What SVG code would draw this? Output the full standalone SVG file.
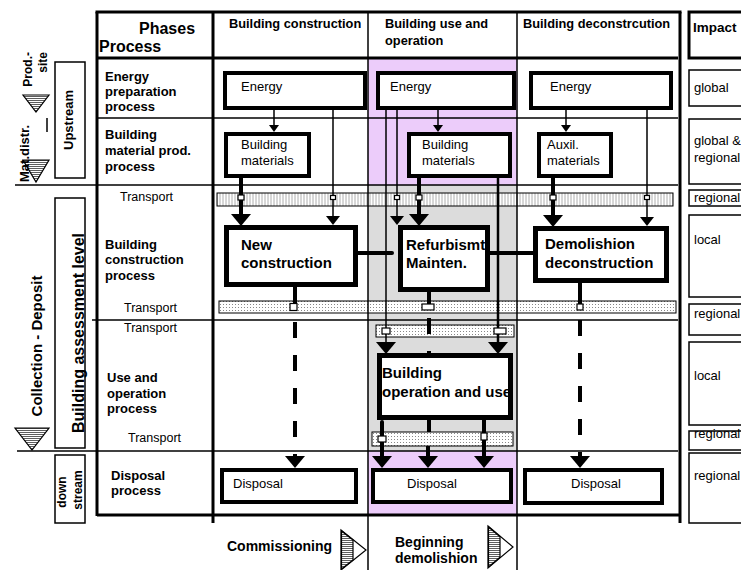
<svg xmlns="http://www.w3.org/2000/svg" width="741" height="570" viewBox="0 0 741 570">
<style>
text { font-family: "Liberation Sans", Arial, sans-serif; fill: #000; }
.hb { font-weight: bold; font-size: 16px; }
.ih { font-weight: bold; font-size: 13.5px; }
.ch { font-weight: bold; font-size: 12.8px; }
.rl { font-weight: bold; font-size: 13px; }
.tr { font-size: 12.5px; }
.nt { font-size: 13px; }
.nb { font-weight: bold; font-size: 15px; }
.im { font-size: 13px; }
.side { font-weight: bold; }
.thick { stroke: #000; stroke-width: 3; fill: none; }
.thin { stroke: #000; stroke-width: 1.5; fill: none; }
.box { fill: #fff; stroke: #000; stroke-width: 4; }
.boxb { fill: #fff; stroke: #000; stroke-width: 5; }
.edge { fill: none; stroke: #000; stroke-width: 5; }
.ibox { fill: #fff; stroke: #000; stroke-width: 1.5; }
.bar1 { fill: url(#pV); stroke: #000; stroke-width: 1; }
.bar { fill: url(#pD); stroke: #000; stroke-width: 1; }
.sq { fill: #fff; stroke: #000; stroke-width: 1.2; }
.cthin { stroke: #000; stroke-width: 1.5; fill: none; }
.cthick { stroke: #000; stroke-width: 4; fill: none; }
.cmid { stroke: #000; stroke-width: 2.5; fill: none; }
.dash { stroke: #000; stroke-width: 4; fill: none; stroke-dasharray: 16 17; }
.tri { fill: url(#pH); stroke: #000; stroke-width: 1.2; }
.triw { fill: #fff; stroke: #000; stroke-width: 1.2; }
</style>
<defs>
<pattern id="pV" patternUnits="userSpaceOnUse" width="3" height="3">
<rect width="3" height="3" fill="#fff"/>
<line x1="1" y1="0" x2="1" y2="3" stroke="#999" stroke-width="0.8"/>
</pattern>
<pattern id="pD" patternUnits="userSpaceOnUse" width="3" height="3">
<rect width="3" height="3" fill="#fff"/>
<rect x="1" y="1" width="1" height="1" fill="#888"/>
</pattern>
<pattern id="pH" patternUnits="userSpaceOnUse" width="4" height="2">
<rect width="4" height="2" fill="#fff"/>
<line x1="0" y1="0.5" x2="4" y2="0.5" stroke="#333" stroke-width="0.8"/>
</pattern>
<marker id="ahB" markerUnits="userSpaceOnUse" markerWidth="12" markerHeight="20" viewBox="0 0 12 20" refX="0" refY="10" orient="auto">
<path d="M0,0 L12,10 L0,20 Z" fill="#000"/>
</marker>
<marker id="ahT" markerUnits="userSpaceOnUse" markerWidth="9" markerHeight="14" viewBox="0 0 9 14" refX="0" refY="7" orient="auto">
<path d="M0,0 L9,7 L0,14 Z" fill="#000"/>
</marker>
<marker id="ahS" markerUnits="userSpaceOnUse" markerWidth="7" markerHeight="10" viewBox="0 0 7 10" refX="0" refY="5" orient="auto">
<path d="M0,0 L7,5 L0,10 Z" fill="#000"/>
</marker>
</defs>

<rect width="741" height="570" fill="#fff"/>

<!-- column highlights -->
<g id="highlight">
<rect x="368" y="58" width="149" height="127" fill="#ecccfa"/>
<rect x="368" y="185" width="149" height="266" fill="#dcdcdc"/>
<rect x="368" y="451" width="149" height="64" fill="#ecccfa"/>
</g>

<!-- transport bars -->
<g id="bars">
<rect class="bar1" x="217" y="193" width="456" height="13"/>
<rect class="bar" x="219" y="301" width="457" height="12"/>
<rect class="bar" x="376" y="325" width="138" height="12"/>
<rect class="bar" x="372" y="432" width="141" height="14"/>
</g>

<!-- grid -->
<g id="grid">
<line class="thin" x1="97" y1="118" x2="678" y2="118"/>
<line class="thin" x1="15" y1="185" x2="678" y2="185"/>
<line class="thin" x1="92" y1="320" x2="678" y2="320"/>
<line class="thin" x1="17" y1="451" x2="678" y2="451"/>
<line class="thin" x1="368" y1="12" x2="368" y2="570"/>
<line class="thin" x1="517" y1="12" x2="517" y2="570"/>
<line class="thick" x1="95.5" y1="12" x2="681.5" y2="12"/>
<line class="thick" x1="97" y1="12" x2="97" y2="516"/>
<line class="thick" x1="213" y1="12" x2="213" y2="523"/>
<line class="thick" x1="680" y1="12" x2="680" y2="523"/>
<line class="thick" x1="97" y1="58" x2="678" y2="58"/>
<line class="thick" x1="97" y1="515" x2="681" y2="515"/>
</g>

<!-- header texts -->
<g id="header">
<text class="hb" x="139" y="34">Phases</text>
<text class="hb" x="99" y="52">Process</text>
<text class="ch" x="229" y="28">Building construction</text>
<text class="ch" x="385" y="28">Building use and</text>
<text class="ch" x="385" y="45">operation</text>
<text class="ch" x="523" y="28">Building deconstrcution</text>
</g>

<!-- row labels -->
<g id="rowlabels">
<text class="rl" x="105" y="81">Energy</text>
<text class="rl" x="105" y="96">preparation</text>
<text class="rl" x="105" y="111">process</text>
<text class="rl" x="105" y="139">Building</text>
<text class="rl" x="105" y="155">material prod.</text>
<text class="rl" x="105" y="171">process</text>
<text class="tr" x="120" y="201">Transport</text>
<text class="rl" x="105" y="249">Building</text>
<text class="rl" x="105" y="264">construction</text>
<text class="rl" x="105" y="280">process</text>
<text class="tr" x="124" y="312">Transport</text>
<text class="tr" x="124" y="332">Transport</text>
<text class="rl" x="107" y="382">Use and</text>
<text class="rl" x="107" y="398">operation</text>
<text class="rl" x="107" y="413">process</text>
<text class="tr" x="128" y="442">Transport</text>
<text class="rl" x="111" y="480">Disposal</text>
<text class="rl" x="111" y="495">process</text>
</g>

<!-- left side -->
<g id="leftside">
<rect class="thin" x="55" y="62" width="30" height="116"/>
<rect class="thin" x="55" y="198" width="30" height="250"/>
<rect class="thin" x="55" y="455" width="30" height="68"/>
<polygon class="tri" points="23,95 49,95 36,112"/>
<polygon class="tri" points="23,160 49,160 36,182"/>
<polygon class="tri" points="15,428 49,428 32,450"/>
<line class="thin" x1="47" y1="118" x2="47" y2="132"/>
<text class="side" font-size="12" text-anchor="end" transform="translate(32,52) rotate(-90)">Prod.-</text>
<text class="side" font-size="12" text-anchor="end" transform="translate(47,52) rotate(-90)">site</text>
<text class="side" font-size="13" transform="translate(29,182) rotate(-90)">Mat.distr.</text>
<text class="side" font-size="13" text-anchor="middle" transform="translate(73,120) rotate(-90)">Upstream</text>
<text class="side" font-size="16" text-anchor="middle" transform="translate(84,333) rotate(-90)">Building assessment level</text>
<text class="side" font-size="15" text-anchor="middle" transform="translate(42,346) rotate(-90)">Collection - Deposit</text>
<text class="side" font-size="12" text-anchor="middle" transform="translate(66,492) rotate(-90)">down</text>
<text class="side" font-size="12" text-anchor="middle" transform="translate(82,490) rotate(-90)">stream</text>
</g>

<!-- impact column -->
<g id="impact">
<rect x="689" y="12" width="70" height="46" fill="#fff" stroke="#000" stroke-width="3"/>
<text class="ih" x="693" y="32">Impact</text>
<rect class="ibox" x="689" y="70" width="70" height="36"/>
<text class="im" x="694" y="92">global</text>
<rect class="ibox" x="689" y="119" width="70" height="65"/>
<text class="im" x="694" y="145">global &amp;</text>
<text class="im" x="694" y="162">regional</text>
<rect class="ibox" x="689" y="190" width="70" height="16"/>
<text class="im" x="694" y="202">regional</text>
<rect class="ibox" x="689" y="215" width="70" height="82"/>
<text class="im" x="694" y="244">local</text>
<rect class="ibox" x="689" y="304" width="70" height="31"/>
<text class="im" x="694" y="318">regional</text>
<rect class="ibox" x="689" y="342" width="70" height="83"/>
<text class="im" x="694" y="380">local</text>
<rect class="ibox" x="689" y="431" width="70" height="19"/>
<text class="im" x="694" y="438">regional</text>
<rect class="ibox" x="689" y="453" width="70" height="70"/>
<text class="im" x="694" y="480">regional</text>
</g>

<!-- connectors -->
<g id="connectors">
<line class="cthin" x1="274" y1="110" x2="274" y2="125" marker-end="url(#ahS)"/>
<line class="cthin" x1="438" y1="110" x2="438" y2="125" marker-end="url(#ahS)"/>
<line class="cthin" x1="566" y1="110" x2="566" y2="125" marker-end="url(#ahS)"/>
<line class="cthin" x1="333" y1="110" x2="333" y2="216" marker-end="url(#ahT)"/>
<line class="cthin" x1="397" y1="110" x2="397" y2="216" marker-end="url(#ahT)"/>
<line class="cthin" x1="647" y1="110" x2="647" y2="217" marker-end="url(#ahT)"/>
<line class="cthin" stroke-width="2" x1="386" y1="110" x2="386" y2="342" marker-end="url(#ahB)"/>
<line class="cthick" x1="241" y1="178" x2="241" y2="214" marker-end="url(#ahB)"/>
<line class="cthick" x1="419" y1="178" x2="419" y2="214" marker-end="url(#ahB)"/>
<line class="cthick" x1="553" y1="178" x2="553" y2="215" marker-end="url(#ahB)"/>
<line class="cmid" x1="498" y1="178" x2="498" y2="342" marker-end="url(#ahB)"/>
<line class="cthick" x1="295" y1="287" x2="295" y2="305"/>
<line class="dash" x1="295" y1="322" x2="295" y2="456" marker-end="url(#ahB)"/>
<line class="cthick" x1="580" y1="283" x2="580" y2="305"/>
<line class="dash" x1="580" y1="320" x2="580" y2="456" marker-end="url(#ahB)"/>
<line class="cthick" x1="429" y1="290" x2="429" y2="305"/>
<line class="dash" stroke-dasharray="15 17" x1="429" y1="318" x2="429" y2="353"/>
<line class="cthick" stroke-width="3" stroke-linecap="round" x1="382" y1="422" x2="382" y2="456" marker-end="url(#ahB)"/>
<line class="cthick" stroke-width="3" x1="429" y1="420" x2="429" y2="432"/>
<line class="cthick" stroke-width="3" x1="428" y1="446" x2="428" y2="456" marker-end="url(#ahB)"/>
<line class="cthick" stroke-width="3" x1="484" y1="420" x2="484" y2="456" marker-end="url(#ahB)"/>
<line class="cthick" stroke-linecap="round" x1="356" y1="253" x2="392" y2="253"/>
<line class="cthick" x1="489" y1="253" x2="534" y2="253"/>
<!-- junction squares on transport bars -->
<rect class="sq" x="238" y="195" width="6" height="5"/>
<rect class="sq" x="330.5" y="195.5" width="5" height="4"/>
<rect class="sq" x="394.5" y="195.5" width="5" height="4"/>
<rect class="sq" x="416" y="195" width="6" height="5"/>
<rect class="sq" x="550" y="195" width="6" height="5"/>
<rect class="sq" x="644.5" y="195.5" width="5" height="4"/>
<rect class="sq" x="290" y="303.5" width="7" height="7"/>
<rect class="sq" x="422" y="304" width="12" height="6"/>
<rect class="sq" x="577" y="304" width="6" height="6"/>
<rect class="sq" x="382" y="328" width="8" height="6"/>
<rect class="sq" x="494" y="328" width="12" height="6"/>
<rect class="sq" x="378" y="436" width="8" height="6"/>
<rect class="sq" x="481" y="433" width="6" height="7"/>
</g>

<!-- nodes -->
<g id="energy1"><rect class="box" x="225" y="73" width="140" height="35"/><text class="nt" x="241" y="91">Energy</text></g>
<g id="energy2"><rect class="box" x="378" y="73" width="136" height="35"/><text class="nt" x="390" y="91">Energy</text></g>
<g id="energy3"><rect class="box" x="531" y="73" width="140" height="35"/><text class="nt" x="550" y="91">Energy</text></g>
<g id="materials1"><rect class="box" x="226" y="134" width="83" height="42"/><text class="nt" x="241" y="149">Building</text><text class="nt" x="241" y="165">materials</text></g>
<g id="materials2"><rect class="box" x="409" y="134" width="101" height="42"/><text class="nt" x="422" y="149">Building</text><text class="nt" x="422" y="165">materials</text></g>
<g id="auxil"><rect class="box" x="539" y="134" width="72" height="42"/><text class="nt" x="547" y="149">Auxil.</text><text class="nt" x="547" y="165">materials</text></g>
<g id="newconstruction"><rect class="boxb" x="226.5" y="227.5" width="129" height="57"/><text class="nb" x="241" y="250">New</text><text class="nb" x="241" y="268">construction</text></g>
<g id="refurbishment"><rect x="400.5" y="227.5" width="87" height="62" fill="#fff"/><text class="nb" x="406" y="250">Refurbismt.</text><text class="nb" x="406" y="268">Mainten.</text><rect class="edge" x="400.5" y="227.5" width="87" height="62"/></g>
<g id="demolition"><rect class="boxb" x="535.5" y="228.5" width="131" height="52"/><text class="nb" x="545" y="249">Demolishion</text><text class="nb" x="545" y="268">deconstruction</text></g>
<g id="operation"><rect x="379.5" y="355.5" width="131" height="62" fill="#fff"/><text class="nb" x="382" y="378">Building</text><text class="nb" x="382" y="397">operation and use</text><rect class="edge" x="379.5" y="355.5" width="131" height="62"/></g>
<g id="disposal1"><rect class="box" x="222" y="470" width="134" height="32"/><text class="nt" x="233" y="488">Disposal</text></g>
<g id="disposal2"><rect class="box" x="373" y="470" width="138" height="32"/><text class="nt" x="432" y="488" text-anchor="middle">Disposal</text></g>
<g id="disposal3"><rect class="box" x="525" y="470" width="137" height="33"/><text class="nt" x="596" y="488" text-anchor="middle">Disposal</text></g>

<!-- milestones -->
<g id="milestones">
<text class="side" font-size="14" x="227" y="551">Commissioning</text>
<polygon class="triw" points="341,530 366,550 341,570"/>
<polygon class="tri" stroke="none" points="341.5,531 353,540 353,560 341.5,569"/>
<text class="side" font-size="14" x="395" y="547">Beginning</text>
<text class="side" font-size="14" x="395" y="563">demolishion</text>
<polygon class="triw" points="488,526 513,547 488,568"/>
<polygon class="tri" stroke="none" points="488.5,527 500,536.7 500,557.3 488.5,567"/>
</g>
</svg>
